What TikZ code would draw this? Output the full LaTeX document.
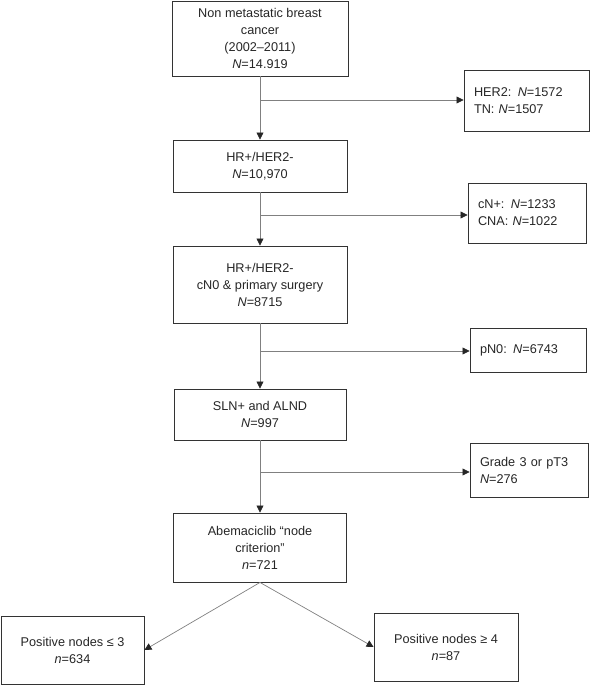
\documentclass[tikz,border=0pt]{standalone}
\usepackage{fontspec}
\setmainfont{Liberation Sans}
\usetikzlibrary{arrows.meta}

\begin{document}
\begin{tikzpicture}[x=1pt,y=-1pt,
  font=\fontsize{12.7}{17}\selectfont,
  box/.style={draw=black!80,line width=0.9pt,align=center,inner sep=0pt,text=black!85},
  sidebox/.style={box,align=left,inner xsep=10pt},
  link/.style={draw=black!50,line width=0.7pt,-{Triangle[width=7pt,length=7pt,color=black!85]}}]
\useasboundingbox (0,0) rectangle (595,685);
% main column
\node [box,minimum width=176pt,minimum height=75pt] (cancer) at (260,38.5)
	{Non metastatic breast\\cancer\\(2002–2011)\\\textit{N}=14.919};
\node [box,minimum width=174pt,minimum height=52pt] (hrher) at (260,166)
	{HR+/HER2-\\\textit{N}=10,970};
\node [box,minimum width=174pt,minimum height=77pt] (surgery) at (260,284.5)
	{HR+/HER2-\\cN0 \& primary surgery\\\textit{N}=8715};
\node [box,minimum width=172pt,minimum height=51pt] (sln) at (260,414.5)
	{SLN+ and ALND\\\textit{N}=997};
\node [box,minimum width=173pt,minimum height=69pt] (abema) at (260,547.5)
	{Abemaciclib “node\\criterion”\\\textit{n}=721};
\node [box,minimum width=143pt,minimum height=68pt] (low) at (72.5,650)
	{Positive nodes ≤ 3\\\textit{n}=634};
\node [box,minimum width=144pt,minimum height=68pt] (high) at (446,647)
	{Positive nodes ≥ 4\\\textit{n}=87};
% excluded
\node [sidebox,text width=105pt,minimum height=61pt] (excl1) at (526.5,100.5)
	{HER2: \textit{N}=1572\\TN: \textit{N}=1507};
\node [sidebox,text width=98pt,minimum height=60pt] (excl2) at (527,213)
	{cN+: \textit{N}=1233\\CNA: \textit{N}=1022};
\node [sidebox,text width=96pt,minimum height=44pt] (excl3) at (528,350)
	{pN0: \textit{N}=6743};
\node [sidebox,text width=98pt,minimum height=54pt] (excl4) at (529,470)
	{Grade 3 or pT3\\\textit{N}=276};
\coordinate (b1) at (260,100);
\coordinate (b2) at (260,215);
\coordinate (b3) at (260,351);
\coordinate (b4) at (260,472);
% connectors
\draw [link] (cancer.south) -- (hrher.north);
\draw [link] (hrher.south) -- (surgery.north);
\draw [link] (surgery.south) -- (sln.north);
\draw [link] (sln.south) -- (abema.north);
\draw [link] (b1) -- (b1 -| excl1.west);
\draw [link] (b2) -- (b2 -| excl2.west);
\draw [link] (b3) -- (b3 -| excl3.west);
\draw [link] (b4) -- (b4 -| excl4.west);
\draw [link] (abema.south) -- (low.east);
\draw [link] (abema.south) -- (high.west);
\end{tikzpicture}
\end{document}
